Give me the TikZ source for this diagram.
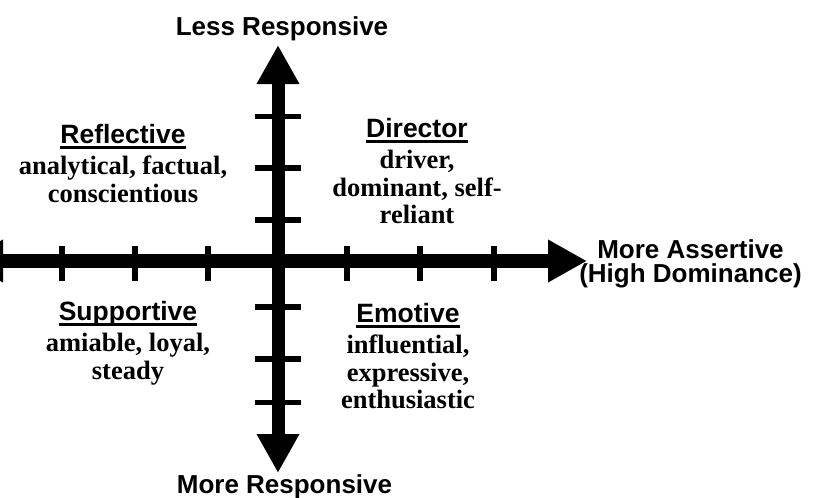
\documentclass[tikz,border=0pt]{standalone}
\usepackage{fontspec}
\setmainfont{Liberation Serif}
\newfontfamily\labelsans{Liberation Sans}
\usetikzlibrary{arrows.meta}

% underlined sans-serif heading of a quadrant
\newcommand{\ulhead}[1]{{\labelsans\setbox0\hbox{#1}\rlap{\rule[-5pt]{\wd0}{2.6pt}}\box0}}

\tikzset{
  axishead/.tip={Triangle[length=39pt,width=40pt]},
  hshaft/.style={line width=14pt, axishead-axishead},
  vshaft/.style={line width=13pt, axishead-axishead},
  tickmark/.style={line width=5.5pt},
  axislabel/.style={font=\labelsans\bfseries\fontsize{26}{24.5}\selectfont, inner sep=0pt, align=center},
  quadrant/.style={font=\bfseries\fontsize{26.5}{27.5}\selectfont, inner sep=0pt, align=center, anchor=north},
}

\begin{document}
\begin{tikzpicture}[x=1pt,y=-1pt]
  \useasboundingbox (0,0) rectangle (817,498);
  \clip (0,0) rectangle (817,498);

  % axis end points and origin
  \coordinate (west)   at (-36,261);
  \coordinate (east)   at (587,261);
  \coordinate (north)  at (278,45);
  \coordinate (south)  at (278,473);
  \coordinate (origin) at (278,261);

  % tick marks on both axes
  \foreach \x in {62,135,208,347,420,494}
    \draw[tickmark] (\x,246) -- (\x,281);
  \foreach \y in {116.5,168,220,307,359,402.5}
    \draw[tickmark] (255,\y) -- (301,\y);

  % the two axes
  \draw[hshaft] (west) -- (east);
  \draw[vshaft] (north) -- (south);

  % axis labels
  \node[axislabel, anchor=base] (top) at (282,35) {Less Responsive};
  \node[axislabel, anchor=base] (bottom) at (284.5,493) {More Responsive};
  \node[axislabel, anchor=north] (right) at (690.5,239) {More Assertive\\(High Dominance)};

  % quadrant descriptions
  \node[quadrant] (reflective) at (123,124.5)
    {\ulhead{Reflective}\\[3.5pt] analytical, factual,\\ conscientious};
  \node[quadrant] (director) at (417,118.5)
    {\ulhead{Director}\\[3.5pt] driver,\\ dominant, self-\\ reliant};
  \node[quadrant] (supportive) at (128,301.5)
    {\ulhead{Supportive}\\[3.5pt] amiable, loyal,\\ steady};
  \node[quadrant] (emotive) at (408,303.5)
    {\ulhead{Emotive}\\[3.5pt] influential,\\ expressive,\\ enthusiastic};
\end{tikzpicture}
\end{document}
